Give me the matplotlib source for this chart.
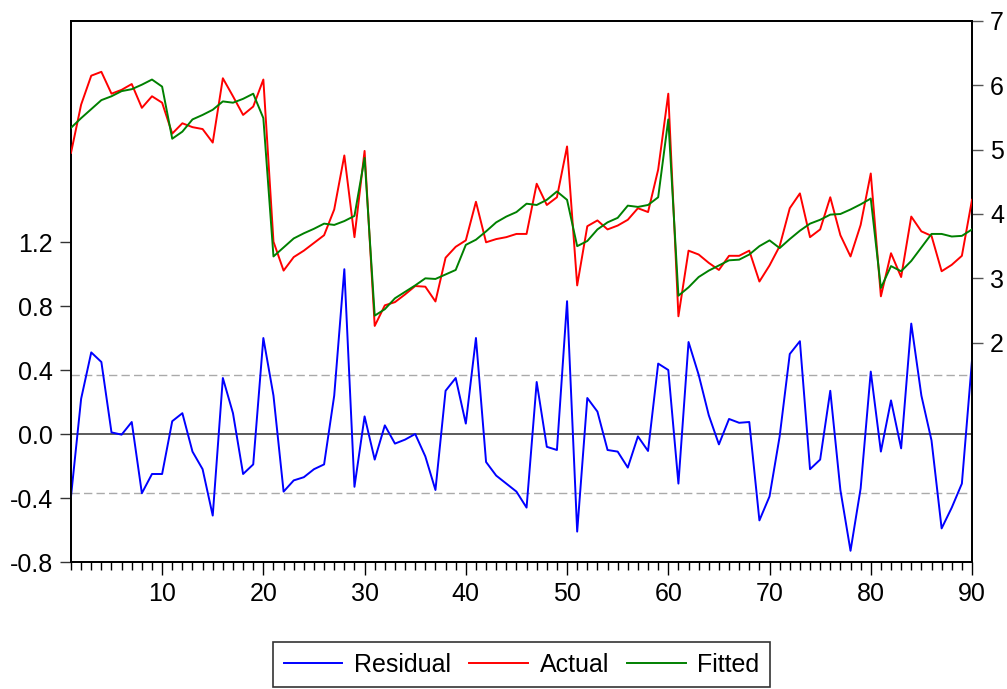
import matplotlib
matplotlib.use('Agg')
import matplotlib.pyplot as plt
from matplotlib.ticker import FixedLocator, MultipleLocator
from matplotlib.lines import Line2D

obs = list(range(1, 91))

actual = [4.95, 5.70, 6.15, 6.21, 5.87, 5.93, 6.02, 5.65, 5.83, 5.73,
          5.25, 5.41, 5.35, 5.32, 5.11, 6.11, 5.83, 5.54, 5.67, 6.09,
          3.57, 3.12, 3.33, 3.43, 3.55, 3.67, 4.07, 4.91, 3.64, 4.98,
          2.26, 2.58, 2.63, 2.75, 2.88, 2.87, 2.64, 3.32, 3.49, 3.59,
          4.19, 3.56, 3.61, 3.64, 3.69, 3.69, 4.47, 4.14, 4.26, 5.05,
          2.89, 3.81, 3.90, 3.76, 3.82, 3.91, 4.09, 4.03, 4.69, 5.87,
          2.41, 3.43, 3.37, 3.24, 3.13, 3.35, 3.35, 3.43, 2.95, 3.20,
          3.50, 4.09, 4.32, 3.64, 3.76, 4.26, 3.67, 3.34, 3.83, 4.63,
          2.72, 3.39, 3.02, 3.96, 3.73, 3.66, 3.11, 3.21, 3.35, 4.22]

fitted = [5.34, 5.49, 5.63, 5.77, 5.83, 5.91, 5.94, 6.01, 6.09, 5.98,
          5.17, 5.28, 5.47, 5.54, 5.62, 5.75, 5.73, 5.79, 5.87, 5.49,
          3.34, 3.48, 3.62, 3.70, 3.77, 3.85, 3.83, 3.89, 3.97, 4.87,
          2.42, 2.52, 2.69, 2.79, 2.89, 3.00, 2.99, 3.06, 3.13, 3.52,
          3.60, 3.73, 3.87, 3.96, 4.03, 4.16, 4.14, 4.22, 4.35, 4.22,
          3.50, 3.58, 3.76, 3.87, 3.94, 4.13, 4.11, 4.14, 4.26, 5.47,
          2.73, 2.86, 3.02, 3.12, 3.20, 3.28, 3.29, 3.37, 3.50, 3.59,
          3.47, 3.61, 3.74, 3.85, 3.91, 3.99, 4.00, 4.07, 4.15, 4.24,
          2.85, 3.19, 3.11, 3.27, 3.48, 3.69, 3.69, 3.65, 3.66, 3.76]

residual = [-0.39, 0.22, 0.51, 0.45, 0.01, -0.004, 0.075, -0.37, -0.25, -0.25,
            0.08, 0.13, -0.11, -0.22, -0.51, 0.35, 0.13, -0.25, -0.19, 0.60,
            0.24, -0.36, -0.29, -0.27, -0.22, -0.19, 0.24, 1.03, -0.33, 0.11,
            -0.16, 0.054, -0.06, -0.035, 0.0, -0.14, -0.35, 0.27, 0.35, 0.065,
            0.60, -0.175, -0.26, -0.31, -0.36, -0.46, 0.325, -0.08, -0.10, 0.83,
            -0.61, 0.225, 0.14, -0.10, -0.11, -0.21, -0.015, -0.106, 0.44, 0.40,
            -0.31, 0.575, 0.37, 0.117, -0.065, 0.094, 0.07, 0.075, -0.54, -0.39,
            -0.015, 0.50, 0.58, -0.22, -0.16, 0.27, -0.35, -0.73, -0.34, 0.39,
            -0.11, 0.21, -0.09, 0.69, 0.24, -0.04, -0.59, -0.46, -0.31, 0.46]

se_band = 0.368
left_ticks = [-0.8, -0.4, 0.0, 0.4, 0.8, 1.2]
left_labels = ['-0.8', '-0.4', '0.0', '0.4', '0.8', '1.2']
right_ticks = [2, 3, 4, 5, 6, 7]
x_ticks = [10, 20, 30, 40, 50, 60, 70, 80, 90]

plt.rcParams['font.family'] = ['Liberation Sans', 'DejaVu Sans']
FS = 18

W, H = 1007, 689
fig = plt.figure(figsize=(W / 100, H / 100), dpi=100)
L, R, T, B = 71, 972, 21, 562
ax = fig.add_axes([L / W, 1 - B / H, (R - L) / W, (B - T) / H])
ax2 = ax.twinx()

# residual panel (left axis)
ax.axhline(0.0, color='#404040', lw=1.2, zorder=1)
ax.axhline(se_band, color='#aaaaaa', lw=1.0, ls=(0, (6, 3)), zorder=1)
ax.axhline(-se_band, color='#aaaaaa', lw=1.0, ls=(0, (6, 3)), zorder=1)
ax.plot(obs, residual, color='#0000ff', lw=1.4, zorder=3)

# actual / fitted (right axis)
ax2.plot(obs, actual, color='#ff0000', lw=1.4, zorder=3)
ax2.plot(obs, fitted, color='#008000', lw=1.4, zorder=4)

span = B - T
ax.set_ylim(-0.8, -0.8 + span / 160.0)
ax2.set_ylim(7 - span / 64.33, 7)
ax.set_xlim(1, 90)

ax.yaxis.set_major_locator(FixedLocator(left_ticks))
ax.set_yticklabels(left_labels)
ax2.yaxis.set_major_locator(FixedLocator(right_ticks))
ax2.set_yticklabels([str(v) for v in right_ticks])
ax.xaxis.set_major_locator(FixedLocator(x_ticks))
ax.xaxis.set_minor_locator(MultipleLocator(1))

ax.tick_params(axis='y', direction='out', length=8, width=1, labelsize=FS, pad=5, color='#333333')
ax2.tick_params(axis='y', direction='out', length=8, width=1, labelsize=FS, pad=5, color='#555555')
ax.tick_params(axis='x', which='major', direction='out', length=9.4, width=1, labelsize=FS, pad=5)
ax.tick_params(axis='x', which='minor', direction='out', length=5.8, width=1)

for a in (ax, ax2):
    for s in a.spines.values():
        s.set_linewidth(1.3)
        s.set_color('black')

handles = [Line2D([], [], color='#0000ff', lw=1.4),
           Line2D([], [], color='#ff0000', lw=1.4),
           Line2D([], [], color='#008000', lw=1.4)]
leg = fig.legend(handles, ['Residual', 'Actual', 'Fitted'], ncol=3,
                 loc='center', bbox_to_anchor=((L + R) / 2 / W, 1 - 664.5 / H),
                 fontsize=FS, frameon=True, fancybox=False, shadow=False,
                 handlelength=2.35, handletextpad=0.47, columnspacing=0.72,
                 borderpad=0.42, borderaxespad=0)
leg.get_frame().set_edgecolor('black')
leg.get_frame().set_linewidth(1.2)

fig.savefig('out.png', dpi=100)
